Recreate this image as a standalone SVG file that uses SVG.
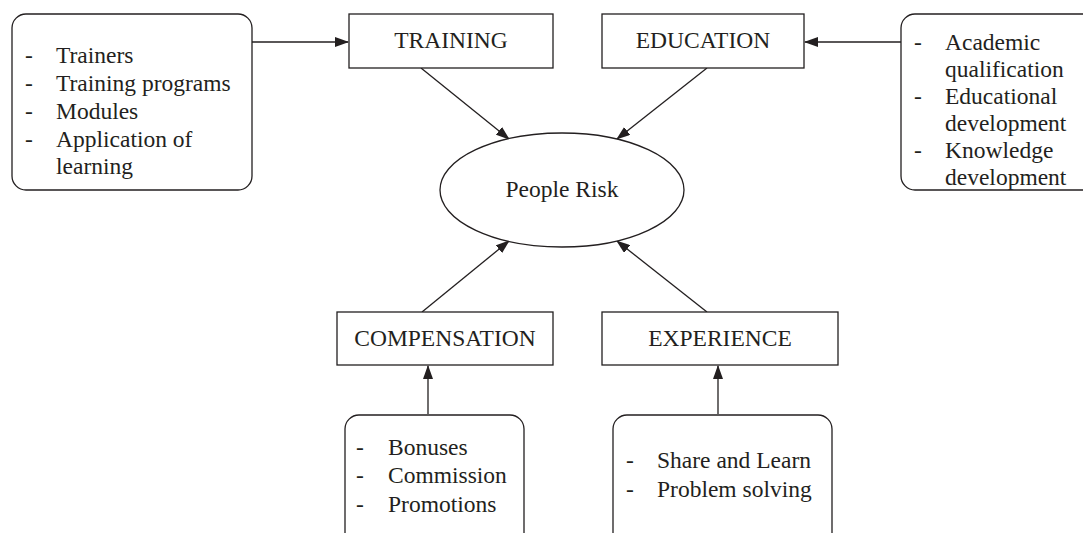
<svg xmlns="http://www.w3.org/2000/svg" width="1083" height="533" viewBox="0 0 1083 533">
<style>
.t{font-family:"Liberation Serif","Times New Roman",serif;font-size:23.5px;fill:#231f20}
.c{text-anchor:middle}
.b{fill:#fff;stroke:#231f20;stroke-width:1.3}
.l{stroke:#231f20;stroke-width:1.3;fill:none}
</style>
<defs>
<marker id="ah" viewBox="0 0 14 10" refX="13" refY="5" markerWidth="14" markerHeight="10" markerUnits="userSpaceOnUse" orient="auto">
<path d="M0,0 L14,5 L0,10 Z" fill="#231f20"/>
</marker>
</defs>
<rect width="1083" height="533" fill="#fff"/>
<g id="connectors">
<line class="l" x1="252" y1="42" x2="348" y2="42" marker-end="url(#ah)"/>
<line class="l" x1="901" y1="42" x2="805" y2="42" marker-end="url(#ah)"/>
<line class="l" x1="421" y1="68" x2="509" y2="139" marker-end="url(#ah)"/>
<line class="l" x1="707" y1="68" x2="617" y2="139" marker-end="url(#ah)"/>
<line class="l" x1="422" y1="312" x2="509" y2="241" marker-end="url(#ah)"/>
<line class="l" x1="707" y1="312" x2="617" y2="241" marker-end="url(#ah)"/>
<line class="l" x1="428" y1="414" x2="428" y2="366" marker-end="url(#ah)"/>
<line class="l" x1="718" y1="414" x2="718" y2="366" marker-end="url(#ah)"/>
</g>
<g id="training-factors">
<rect class="b" x="12" y="14" width="240" height="176" rx="14"/>
<text class="t" x="25" y="63">-</text><text class="t" x="56" y="63">Trainers</text>
<text class="t" x="25" y="91">-</text><text class="t" x="56" y="91">Training programs</text>
<text class="t" x="25" y="119">-</text><text class="t" x="56" y="119">Modules</text>
<text class="t" x="25" y="147">-</text><text class="t" x="56" y="147">Application of</text>
<text class="t" x="56" y="174">learning</text>
</g>
<g id="training">
<rect class="b" x="349" y="14" width="204" height="54"/>
<text class="t c" x="451" y="48">TRAINING</text>
</g>
<g id="education">
<rect class="b" x="602" y="14" width="202" height="54"/>
<text class="t c" x="703" y="48">EDUCATION</text>
</g>
<g id="education-factors">
<rect class="b" x="901" y="14" width="200" height="176" rx="14"/>
<text class="t" x="914" y="50">-</text><text class="t" x="945" y="50">Academic</text>
<text class="t" x="945" y="77">qualification</text>
<text class="t" x="914" y="104">-</text><text class="t" x="945" y="104">Educational</text>
<text class="t" x="945" y="131">development</text>
<text class="t" x="914" y="158">-</text><text class="t" x="945" y="158">Knowledge</text>
<text class="t" x="945" y="185">development</text>
</g>
<g id="people-risk">
<ellipse class="b" cx="562" cy="190" rx="122" ry="57"/>
<text class="t c" x="562" y="197">People Risk</text>
</g>
<g id="compensation">
<rect class="b" x="337" y="312" width="216" height="53"/>
<text class="t c" x="445" y="346">COMPENSATION</text>
</g>
<g id="experience">
<rect class="b" x="602" y="312" width="236" height="53"/>
<text class="t c" x="720" y="346">EXPERIENCE</text>
</g>
<g id="compensation-factors">
<rect class="b" x="345" y="415" width="179" height="140" rx="14"/>
<text class="t" x="356" y="455">-</text><text class="t" x="388" y="455">Bonuses</text>
<text class="t" x="356" y="483">-</text><text class="t" x="388" y="483">Commission</text>
<text class="t" x="356" y="512">-</text><text class="t" x="388" y="512">Promotions</text>
</g>
<g id="experience-factors">
<rect class="b" x="613" y="415" width="219" height="140" rx="14"/>
<text class="t" x="626" y="468">-</text><text class="t" x="657" y="468">Share and Learn</text>
<text class="t" x="626" y="497">-</text><text class="t" x="657" y="497">Problem solving</text>
</g>
</svg>
